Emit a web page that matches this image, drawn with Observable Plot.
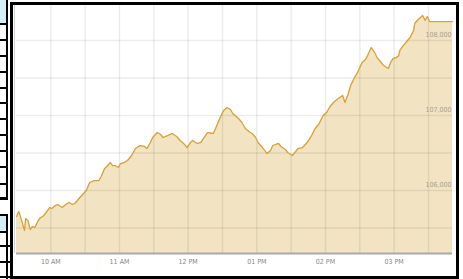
<!DOCTYPE html>
<html>
<head>
<meta charset="utf-8">
<script src="https://cdn.jsdelivr.net/npm/d3@7"></script>
<script src="https://cdn.jsdelivr.net/npm/@observablehq/plot@0.6"></script>
<style>
  html, body { margin: 0; padding: 0; background: #fff; }
  body { width: 463px; height: 279px; position: relative; overflow: hidden; }
  .abs { position: absolute; }
  .blk { position: absolute; background: #000; }
  .blue { position: absolute; background: #d5edf5; }
  #chart { position: absolute; left: 0; top: 0; }
</style>
</head>
<body>
<div id="chart"></div>
<!-- left table fragments -->
<div class="blue" style="left:0;top:0;width:6px;height:23px"></div>
<div class="blk" style="left:6px;top:0;width:2px;height:200px"></div>
<div class="blk" style="left:0;top:23px;width:8px;height:2px"></div>
<div class="blk" style="left:0;top:39px;width:8px;height:2px"></div>
<div class="blk" style="left:0;top:55px;width:8px;height:1.5px"></div>
<div class="blk" style="left:0;top:71px;width:8px;height:1.5px"></div>
<div class="blk" style="left:0;top:87px;width:8px;height:1.5px"></div>
<div class="blk" style="left:0;top:102px;width:8px;height:1.5px"></div>
<div class="blk" style="left:0;top:118px;width:8px;height:1.5px"></div>
<div class="blk" style="left:0;top:134px;width:8px;height:1.5px"></div>
<div class="blk" style="left:0;top:150px;width:8px;height:1.5px"></div>
<div class="blk" style="left:0;top:166px;width:8px;height:1.5px"></div>
<div class="blk" style="left:0;top:183px;width:8px;height:1.5px"></div>
<div class="blk" style="left:0;top:197px;width:8px;height:3px"></div>
<div class="blk" style="left:0;top:214px;width:8px;height:2px"></div>
<div class="blue" style="left:0;top:216px;width:6px;height:15px"></div>
<div class="blk" style="left:0;top:231px;width:8px;height:1.5px"></div>
<div class="blk" style="left:6px;top:214px;width:2px;height:65px"></div>
<div class="blk" style="left:0;top:245px;width:12px;height:1.5px"></div>
<div class="blk" style="left:0;top:261px;width:12px;height:1.5px"></div>
<div class="blk" style="left:0;top:276px;width:12px;height:1.5px"></div>
<!-- chart frame -->
<div class="abs" style="left:14px;top:5px;width:1px;height:248px;background:#cfcfcf"></div>
<div class="abs" style="left:10px;top:2px;width:443px;height:271px;border:3px solid #000"></div>
<script>
// minutes after 09:30
const minutes = [0,2,4,7,8,10,12,14,16,19,21,23,26,29,31,34,36,40,43,46,49,51,54,57,61,64,68,72,74,77,79,82,84,86,89,91,94,97,100,104,108,112,114,117,119,123,126,128,132,136,140,143,147,149,152,154,158,161,164,167,172,174,178,181,184,187,189,194,197,200,203,206,209,211,215,219,222,224,229,231,235,237,241,244,246,250,254,257,261,264,268,271,274,277,280,285,287,290,292,295,298,300,302,305,306,308,310,313,315,318,320,322,325,327,329,332,334,335,338,341,344,347,348,351,353,355,357,359,361,381];
const values = [105653,105720,105627,105467,105627,105600,105480,105520,105507,105600,105640,105653,105707,105773,105760,105800,105813,105773,105813,105840,105813,105827,105880,105933,106000,106107,106133,106133,106187,106293,106320,106373,106333,106333,106307,106360,106373,106400,106453,106560,106600,106587,106560,106640,106707,106773,106747,106707,106733,106760,106720,106667,106613,106573,106640,106667,106627,106640,106707,106773,106760,106827,106973,107067,107107,107080,107027,106960,106907,106827,106787,106760,106707,106640,106573,106493,106533,106600,106627,106587,106547,106507,106467,106520,106560,106573,106640,106707,106827,106880,107000,107040,107120,107173,107213,107267,107173,107293,107400,107493,107573,107640,107707,107747,107773,107840,107907,107840,107773,107720,107680,107653,107627,107707,107760,107773,107800,107867,107933,107987,108040,108133,108227,108280,108307,108333,108267,108320,108253,108253];
const yTickValues = [108000, 107000, 106000];
const yGridValues = [105500, 106000, 106500, 107000, 107500, 108000];
const xLabelHours = [10, 11, 12, 13, 14, 15];
const xGridHalfHours = [10, 10.5, 11, 11.5, 12, 12.5, 13, 13.5, 14, 14.5, 15, 15.5];

const day = (h, m = 0) => new Date(2024, 0, 2, h, m);
const data = minutes.map((m, i) => ({date: day(9, 30 + m), value: values[i]}));
const yMin = 105160, yMax = 108467;
const xMin = day(9, 30), xMax = day(15, 51);
const hourTicks = xLabelHours.map(h => day(h));
const halfTicks = xGridHalfHours.map(h => day(Math.floor(h), (h % 1) * 60));

const font = "'Liberation Sans Narrow', 'DejaVu Sans Condensed', 'Arial Narrow', sans-serif";

const chart = Plot.plot({
  width: 463,
  height: 279,
  marginLeft: 16,
  marginRight: 11,
  marginTop: 5,
  marginBottom: 26,
  style: {background: "transparent", fontFamily: font, overflow: "visible"},
  x: {type: "time", domain: [xMin, xMax], axis: null},
  y: {domain: [yMin, yMax], axis: null},
  marks: [
    Plot.areaY(data, {x: "date", y1: yMin, y2: "value", fill: "#f2e4c3"}),
    Plot.ruleX(halfTicks, {stroke: "#000", strokeOpacity: 0.075, strokeWidth: 1.5}),
    Plot.ruleY(yGridValues, {stroke: "#000", strokeOpacity: 0.075, strokeWidth: 1.5}),
    Plot.lineY(data, {x: "date", y: "value", stroke: "#d9a23a", strokeWidth: 1.3}),
    Plot.ruleY([yMin], {stroke: "#a9a9a9", strokeWidth: 2}),
    Plot.text(yTickValues, {x: xMax, y: d => d, text: d => d3.format(",")(d), textAnchor: "end", dx: -1, dy: -6, fontSize: 7, fill: "#a8a091"}),
    Plot.axisX({ticks: hourTicks, tickFormat: "%I %p", tickSize: 0, tickPadding: 6, fontSize: 7, fill: "#888", anchor: "bottom"})
  ]
});
document.getElementById("chart").appendChild(chart);
</script>
</body>
</html>
